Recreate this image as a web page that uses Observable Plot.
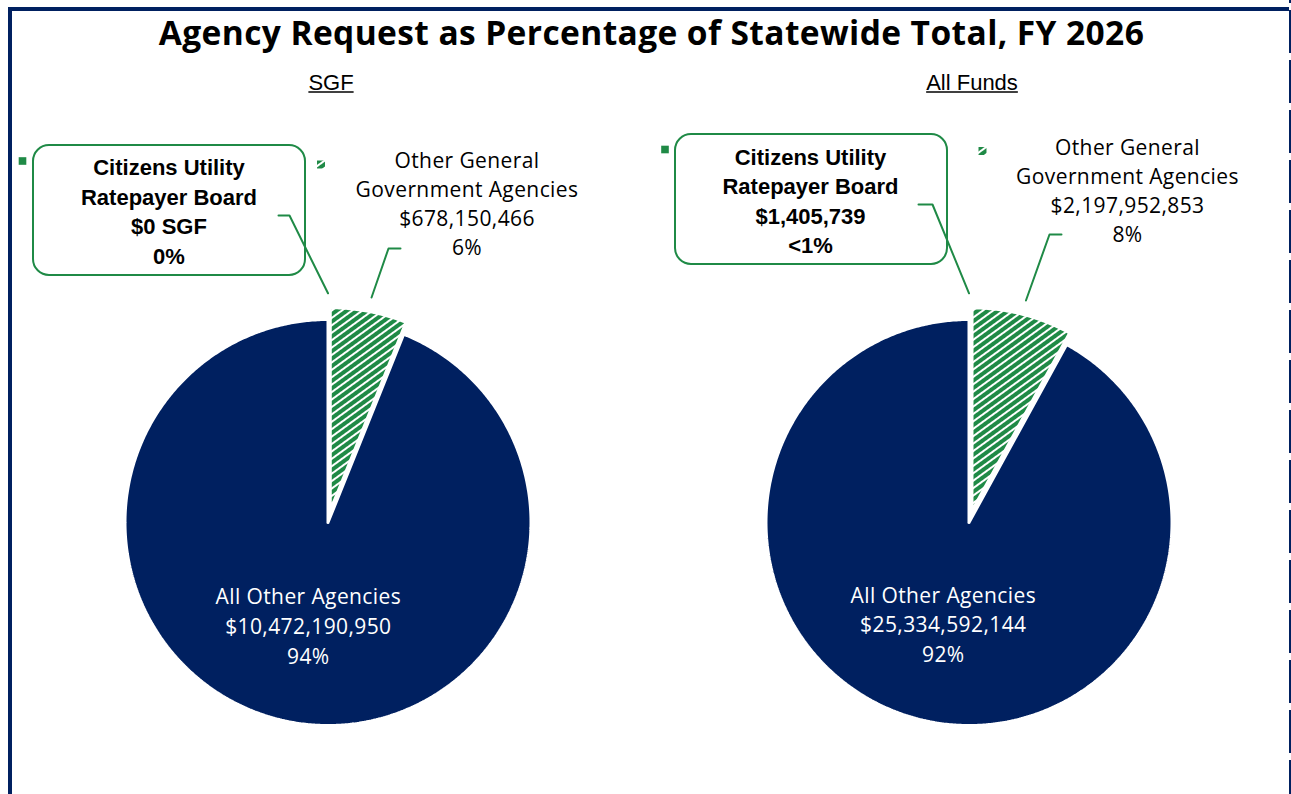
<!DOCTYPE html>
<html>
<head>
<meta charset="utf-8">
<script src="https://cdn.jsdelivr.net/npm/d3@7"></script>
<script src="https://cdn.jsdelivr.net/npm/@observablehq/plot@0.6"></script>
<style>
  html, body { margin: 0; padding: 0; background: #fff; }
  #page { position: relative; width: 1291px; height: 794px; overflow: hidden; background: #fff; }
  #title { position: absolute; left: 0; top: 11px; width: 1303px; text-align: center;
           font: 700 33.5px "Open Sans", "DejaVu Sans", sans-serif; letter-spacing: 0.4px; line-height: 42px; color: #000; }
  #chart { position: absolute; left: 0; top: 55px; }
  .fl { position: absolute; left: 8px; top: 7px; width: 4px; height: 787px; background: #002060; z-index: 5; }
  .ft { position: absolute; left: 8px; top: 7px; width: 1281px; height: 4px; background: #002060; z-index: 5; }
  .fr { position: absolute; left: 1289px; top: -47px; width: 2px; height: 841px; z-index: 5;
        background: repeating-linear-gradient(to bottom, transparent 0px, transparent 7px, #002060 7px, #002060 50px); }
</style>
</head>
<body>
<div id="page">
  <div id="title">Agency Request as Percentage of Statewide Total, FY 2026</div>
  <div id="chart"></div>
  <div class="fl"></div><div class="ft"></div><div class="fr"></div>
</div>
<script>
// ---- data ----
const funds = ["SGF", "All Funds"];
const slices = ["Citizens Utility Ratepayer Board", "Other General Government Agencies", "All Other Agencies"];
const sliceLines = [["Citizens Utility", "Ratepayer Board"], ["Other General", "Government Agencies"], ["All Other Agencies"]];
const sgfValues = [0, 678150466, 10472190950];
const allFundsValues = [1405739, 2197952853, 25334592144];
const sgfPercentLabels = ["0%", "6%", "94%"];
const allFundsPercentLabels = ["<1%", "8%", "92%"];
const sgfAmountSuffix = [" SGF", "", ""];
const allFundsAmountSuffix = ["", "", ""];

const valuesByFund = [sgfValues, allFundsValues];
const pctByFund = [sgfPercentLabels, allFundsPercentLabels];
const suffixByFund = [sgfAmountSuffix, allFundsAmountSuffix];

// ---- styling / layout ----
const NAVY = "#002060", GREEN = "#1f8a46";
const sliceFills = [GREEN, "url(#hatch)", NAVY];
const W = 1291, H = 739;           // svg size
const R = 203;                      // pie radius in px
const CY = 467;                     // pie centre (px from svg top)
const FW = 641;                     // facet width
const EXPLODE = 12 / R;
const bodyFont = "'Open Sans', 'DejaVu Sans', sans-serif";
const boldFont = "'Liberation Sans', Arial, sans-serif";

// label layout in px, relative to each pie centre (y downward)
const layout = {
  "SGF": {
    box: [-294.5, -377, -22.5, -247], boxText: [-159, -312.5], key: [-305.5, -361.5],
    leader0: [[-49.5, -307], [-38.5, -307]],
    otherText: [139, -320.5], hatchKey: [-7, -358],
    leader1: [[72.5, -274], [60.5, -274]]
  },
  "All Funds": {
    box: [-293.5, -388, -21.5, -258], boxText: [-158.5, -323], key: [-304, -373],
    leader0: [[-50.5, -318], [-36.5, -318]],
    otherText: [158.5, -333], hatchKey: [13.5, -371.5],
    leader1: [[92.5, -288], [80.5, -288]]
  }
};
const u = ([dx, dy]) => [dx / R, -dy / R];
const fmt = d3.format("$,");

// ---- geometry from data ----
const pieRows = [], leaderRows = [], textRows = [], boxRows = [], keyRows = [];
funds.forEach((fund, i) => {
  const arcs = d3.pie().sort(null).value(d => d)(valuesByFund[i]);
  const L = layout[fund];
  arcs.forEach((a, j) => {
    const mid = (a.startAngle + a.endAngle) / 2;
    const off = j < 2 ? EXPLODE : 0;
    const ox = off * Math.sin(mid), oy = off * Math.cos(mid);
    const span = a.endAngle - a.startAngle;
    const n = Math.max(2, Math.ceil(span / (Math.PI / 360)));
    const pts = [[ox, oy]];
    for (let k = 0; k <= n; ++k) {
      const ang = a.startAngle + span * k / n;
      pts.push([ox + Math.sin(ang), oy + Math.cos(ang)]);
    }
    pts.push([ox, oy]);
    pts.forEach(([x, y]) => pieRows.push({fund, slice: j, x, y}));

    const amount = fmt(valuesByFund[i][j]) + suffixByFund[i][j];
    const text = [...sliceLines[j], amount, pctByFund[i][j]].join("\n");
    if (j < 2) {
      const end = [ox + 1.07 * Math.sin(mid), oy + 1.07 * Math.cos(mid)];
      const lp = j === 0 ? L.leader0 : L.leader1;
      [u(lp[0]), u(lp[1]), end].forEach(([x, y]) => leaderRows.push({fund, id: fund + j, x, y}));
      const [tx, ty] = u(j === 0 ? L.boxText : L.otherText);
      textRows.push({fund, slice: j, text, x: tx, y: ty});
      const [kx, ky] = u(j === 0 ? L.key : L.hatchKey);
      keyRows.push({fund, slice: j, x: kx, y: ky});
      if (j === 0) {
        const [x1, y1] = u([L.box[0], L.box[1]]);
        const [x2, y2] = u([L.box[2], L.box[3]]);
        boxRows.push({fund, x1, y1, x2, y2});
      }
    } else {
      textRows.push({fund, slice: j, text, x: 0.51 * Math.sin(mid), y: 0.51 * Math.cos(mid)});
    }
  });
});

const sliceMarks = [0, 1, 2].map(j => Plot.line(pieRows.filter(d => d.slice === j), {
  fx: "fund", x: "x", y: "y", curve: "linear",
  fill: sliceFills[j], stroke: "white", strokeWidth: 3, strokeLinejoin: "miter"
}));

const chart = Plot.plot({
  width: W, height: H,
  marginLeft: 7, marginRight: 2, marginTop: 0, marginBottom: 0,
  facet: {marginTop: 0, marginRight: 0, marginBottom: 0, marginLeft: 0},
  fx: {domain: funds, padding: 0, axis: null, label: null},
  x: {domain: [-FW / 2 / R, FW / 2 / R], axis: null},
  y: {domain: [-(H - CY) / R, CY / R], axis: null},
  style: {background: "transparent", overflow: "visible"},
  marks: [
    Plot.text(funds, {fx: d => d, text: d => d, frameAnchor: "top", dy: 34, dx: 3,
      lineAnchor: "bottom", fontSize: 22, fontFamily: boldFont, fill: "black", ariaLabel: () => "subtitle"}),
    ...sliceMarks,
    Plot.rect(boxRows, {fx: "fund", x1: "x1", x2: "x2", y1: "y1", y2: "y2", rx: 16,
      fill: "white", stroke: GREEN, strokeWidth: 2}),
    Plot.line(leaderRows, {fx: "fund", x: "x", y: "y", z: "id", stroke: GREEN, strokeWidth: 2, curve: "linear"}),
    Plot.dot(keyRows.filter(d => d.slice === 0), {fx: "fund", x: "x", y: "y", symbol: "square", r: 4.3, fill: GREEN, stroke: "none"}),
    Plot.dot(keyRows.filter(d => d.slice === 1), {fx: "fund", x: "x", y: "y", symbol: "square", r: 4.5, fill: "url(#hatch)", stroke: "none"}),
    Plot.text(textRows.filter(d => d.slice === 0), {fx: "fund", x: "x", y: "y", text: "text",
      fontFamily: boldFont, fontWeight: "bold", fontSize: 22, lineHeight: 1.34, fill: "black"}),
    Plot.text(textRows.filter(d => d.slice === 1), {fx: "fund", x: "x", y: "y", text: "text",
      fontFamily: bodyFont, fontSize: 21, lineHeight: 1.38, fill: "black", ariaLabel: () => "wide"}),
    Plot.text(textRows.filter(d => d.slice === 2), {fx: "fund", x: "x", y: "y", text: "text",
      fontFamily: bodyFont, fontSize: 21, lineHeight: 1.42, fill: "white", ariaLabel: () => "wide"})
  ]
});

const svgNode = chart.tagName.toLowerCase() === "svg" ? chart : chart.querySelector("svg");
const svg = d3.select(svgNode);
const defs = svg.insert("defs", ":first-child");
const pat = defs.append("pattern").attr("id", "hatch").attr("patternUnits", "userSpaceOnUse")
  .attr("width", 6).attr("height", 6).attr("patternTransform", "rotate(-36)");
pat.append("rect").attr("width", 6).attr("height", 6).attr("fill", "white");
pat.append("rect").attr("width", 6).attr("height", 4).attr("fill", GREEN);
svg.selectAll('[aria-label="wide"]').style("letter-spacing", "0.4px");

document.getElementById("chart").appendChild(chart);

// underline the panel subtitles
svg.selectAll('text[aria-label="subtitle"]').each(function () {
  const b = this.getBBox();
  const line = document.createElementNS("http://www.w3.org/2000/svg", "line");
  const t = this.getAttribute("transform");
  if (t) line.setAttribute("transform", t);
  line.setAttribute("x1", b.x); line.setAttribute("x2", b.x + b.width);
  line.setAttribute("y1", b.y + b.height - 2.5); line.setAttribute("y2", b.y + b.height - 2.5);
  line.setAttribute("stroke", "black"); line.setAttribute("stroke-width", 1.4);
  this.parentNode.appendChild(line);
});
</script>
</body>
</html>
